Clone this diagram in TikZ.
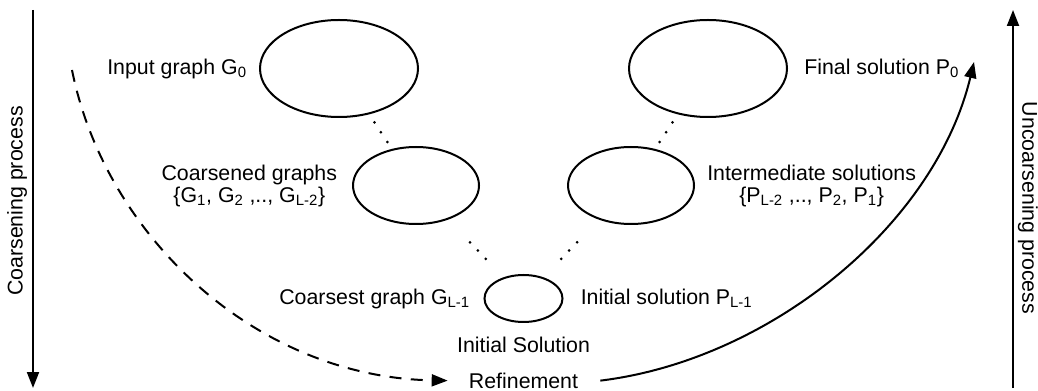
\documentclass[tikz,border=0pt]{standalone}
\usepackage{fontspec}
\setmainfont{Liberation Sans}
\usetikzlibrary{arrows.meta,positioning,shapes.geometric}

\begin{document}
\begin{tikzpicture}[x=0.75pt,y=-0.75pt,
    font=\fontsize{16}{16.5}\selectfont,
    stage/.style={ellipse,draw,line width=1.5pt,inner sep=0pt},
    bigstage/.style={stage,minimum width=118.5pt,minimum height=72.75pt},
    midstage/.style={stage,minimum width=94.5pt,minimum height=57.75pt},
    smallstage/.style={stage,minimum width=58.5pt,minimum height=35.25pt},
    lbl/.style={inner sep=0pt},
    dotlink/.style={line width=2.25pt,line cap=round,dash pattern=on 0pt off #1},
    axis/.style={line width=1.5pt,-{Triangle[length=12pt,width=9pt]}},
    flow/.style={line width=1.5pt,-{Triangle[length=12pt,width=9pt]}}]
  \useasboundingbox (0,0) rectangle (1038,391);

  % graph levels
  \node[bigstage] (g0) at (339,68.5) {};
  \node[midstage] (g1) at (416,185.5) {};
  \node[smallstage] (gl) at (523.5,298.5) {};
  \node[bigstage] (p0) at (708,68.5) {};
  \node[midstage] (p1) at (631,185.5) {};

  \draw[dotlink=8.8pt,shorten <=7.25pt,shorten >=5pt] (g0) -- (g1);
  \draw[dotlink=8.8pt,shorten <=7.25pt,shorten >=5pt] (p0) -- (p1);
  \draw[dotlink=8.6pt,shorten <=23.5pt,shorten >=18.5pt] (g1) -- (gl);
  \draw[dotlink=8.6pt,shorten <=23.5pt,shorten >=18.5pt] (p1) -- (gl);

  % labels
  \node[lbl,left=9pt of g0] (g0txt) {Input graph G\textsubscript{0}};
  \node[lbl,left=11pt of g1,align=center] (g1txt) {Coarsened graphs\\\{G\textsubscript{1}, G\textsubscript{2} ,.., G\textsubscript{L-2}\}};
  \node[lbl,left=10pt of gl] (gltxt) {Coarsest graph G\textsubscript{L-1}};
  \node[lbl,right=12.75pt of gl] (pltxt) {Initial solution P\textsubscript{L-1}};
  \node[lbl,right=12pt of p0] (p0txt) {Final solution P\textsubscript{0}};
  \node[lbl,right=9pt of p1,align=center] (p1txt) {Intermediate solutions\\\{P\textsubscript{L-2} ,.., P\textsubscript{2}, P\textsubscript{1}\}};
  \node[lbl,below=10pt of gl] (init) {Initial Solution};
  \node[lbl,below=15pt of init] (refine) {Refinement};

  % side axes
  \coordinate (ltop) at (33,10);
  \coordinate (lbot) at (33,388);
  \coordinate (rbot) at (1013,388);
  \coordinate (rtop) at (1013,10);
  \draw[axis] (ltop) -- (lbot);
  \draw[axis] (rbot) -- (rtop);
  \node[rotate=90] (coarsening) at (17,201) {Coarsening process};
  \node[rotate=-90] (uncoarsening) at (1028,208) {Uncoarsening process};

  % curved arrows
  \coordinate (dstart) at (72,70);
  \coordinate (uend) at (974,62);
  \draw[flow,dash pattern=on 9pt off 7pt] (dstart) .. controls (105,235) and (255,377) .. ([xshift=-15.75pt]refine.west);
  \draw[flow] ([xshift=16.5pt]refine.east) .. controls (770,360) and (935,225) .. (uend);
\end{tikzpicture}
\end{document}
